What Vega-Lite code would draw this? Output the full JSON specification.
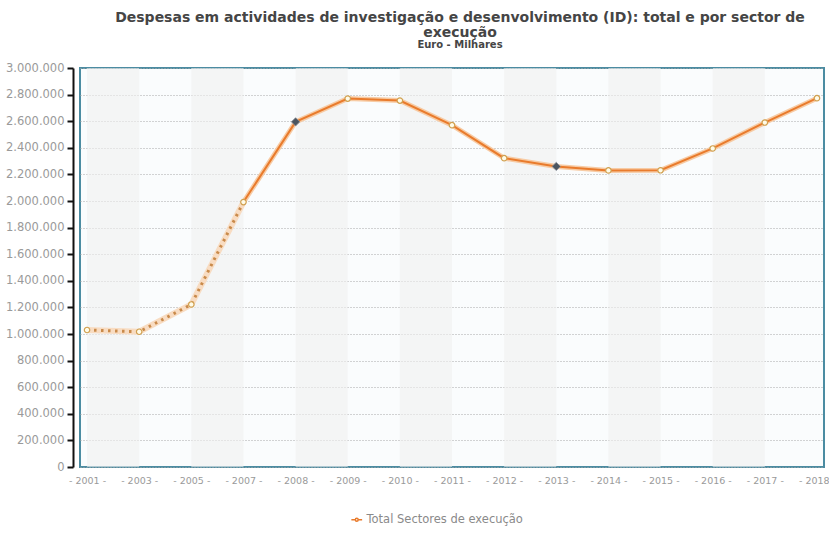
{
  "$schema": "https://vega.github.io/schema/vega-lite/v6.json",
  "width": 744,
  "height": 399,
  "autosize": {"type": "none"},
  "padding": {"left": 80, "top": 68, "right": 5, "bottom": 67},
  "background": "#ffffff",
  "title": {
    "text": ["Despesas em actividades de investigação e desenvolvimento (ID): total e por sector de", "execução"],
    "subtitle": "Euro - Milhares",
    "font": "DejaVu Sans",
    "fontSize": 14,
    "fontWeight": "bold",
    "color": "#454545",
    "lineHeight": 15,
    "subtitleFont": "DejaVu Sans",
    "subtitleFontSize": 10,
    "subtitleFontWeight": "bold",
    "subtitleColor": "#454545",
    "subtitlePadding": 0,
    "anchor": "middle",
    "dx": 8,
    "offset": 12
  },
  "datasets": {
    "despesa": [
      {"ano": 2001, "valor": 1030000, "serie": "Total Sectores de execução"},
      {"ano": 2003, "valor": 1017000, "serie": "Total Sectores de execução"},
      {"ano": 2005, "valor": 1222000, "serie": "Total Sectores de execução"},
      {"ano": 2007, "valor": 1992000, "serie": "Total Sectores de execução"},
      {"ano": 2008, "valor": 2595000, "serie": "Total Sectores de execução"},
      {"ano": 2009, "valor": 2770000, "serie": "Total Sectores de execução"},
      {"ano": 2010, "valor": 2755000, "serie": "Total Sectores de execução"},
      {"ano": 2011, "valor": 2570000, "serie": "Total Sectores de execução"},
      {"ano": 2012, "valor": 2322000, "serie": "Total Sectores de execução"},
      {"ano": 2013, "valor": 2260000, "serie": "Total Sectores de execução"},
      {"ano": 2014, "valor": 2230000, "serie": "Total Sectores de execução"},
      {"ano": 2015, "valor": 2231000, "serie": "Total Sectores de execução"},
      {"ano": 2016, "valor": 2395000, "serie": "Total Sectores de execução"},
      {"ano": 2017, "valor": 2590000, "serie": "Total Sectores de execução"},
      {"ano": 2018, "valor": 2773000, "serie": "Total Sectores de execução"}
    ],
    "faixas": [
      {"de": 2001, "ate": 2003},
      {"de": 2005, "ate": 2007},
      {"de": 2008, "ate": 2009},
      {"de": 2010, "ate": 2011},
      {"de": 2012, "ate": 2013},
      {"de": 2014, "ate": 2015},
      {"de": 2016, "ate": 2017}
    ]
  },
  "config": {
    "view": {"stroke": "#4b8ca2", "strokeWidth": 2, "fill": "#fafcfd"},
    "font": "DejaVu Sans",
    "axisY": {"labelFontSize": 11.5, "labelFont": "DejaVu Sans", "labelColor": "#9a9a9a"}
  },
  "encoding": {
    "x": {
      "field": "ano",
      "type": "ordinal",
      "scale": {
        "type": "point",
        "padding": 0.135,
        "domain": [2001, 2003, 2005, 2007, 2008, 2009, 2010, 2011, 2012, 2013, 2014, 2015, 2016, 2017, 2018]
      },
      "axis": {
        "title": null,
        "domain": false,
        "ticks": false,
        "grid": false,
        "labelAngle": 0,
        "labelOverlap": false,
        "labelExpr": "'- ' + datum.label + ' -'",
        "labelColor": "#9a9a9a",
        "labelFont": "DejaVu Sans",
        "labelFontSize": 9.5,
        "labelPadding": 8,
        "labelDx": -4
      }
    }
  },
  "layer": [
    {
      "data": {"name": "faixas"},
      "mark": {"type": "rect", "fill": "#f0f0f0", "opacity": 0.6},
      "encoding": {
        "x": {"field": "de", "type": "ordinal"},
        "x2": {"field": "ate"}
      }
    },
    {
      "data": {"name": "despesa"},
      "encoding": {
        "y": {
          "field": "valor",
          "type": "quantitative",
          "scale": {"domain": [0, 3000000], "nice": false, "zero": true},
          "axis": {
            "title": null,
            "values": [0, 200000, 400000, 600000, 800000, 1000000, 1200000, 1400000, 1600000, 1800000, 2000000, 2200000, 2400000, 2600000, 2800000, 3000000],
            "labelExpr": "replace(format(datum.value, ','), regexp(',', 'g'), '.')",
            "labelFontSize": 11.5,
            "labelPadding": 3,
            "domain": true,
            "domainColor": "#111111",
            "domainWidth": 2,
            "ticks": true,
            "tickColor": "#111111",
            "tickWidth": 2,
            "tickSize": 6,
            "offset": 7,
            "grid": true,
            "gridColor": "#a8a8a8",
            "gridDash": [1, 2],
            "gridWidth": 1
          }
        }
      },
      "layer": [
        {
          "transform": [{"filter": "datum.ano <= 2007"}],
          "mark": {"type": "line", "stroke": "#f8dcc2", "strokeWidth": 6, "strokeCap": "round"}
        },
        {
          "transform": [{"filter": "datum.ano <= 2007"}],
          "mark": {"type": "line", "stroke": "#c98a4a", "strokeWidth": 3, "strokeDash": [2.5, 4.5]}
        },
        {
          "transform": [{"filter": "datum.ano >= 2007"}],
          "mark": {"type": "line", "stroke": "#f7cba4", "strokeWidth": 5, "strokeCap": "round"}
        },
        {
          "transform": [{"filter": "datum.ano >= 2007"}],
          "mark": {"type": "line", "strokeWidth": 2},
          "encoding": {
            "color": {
              "field": "serie",
              "type": "nominal",
              "scale": {"range": ["#e97b2c"]},
              "legend": {
                "title": null,
                "orient": "none",
                "legendX": 271,
                "legendY": 446,
                "symbolType": "M-1.7,0H-0.45M0.45,0H1.7M0.45,0A0.45,0.45 0 1 1 -0.45,0A0.45,0.45 0 1 1 0.45,0",
                "symbolFillColor": "#ffffff",
                "symbolStrokeColor": "#e9953c",
                "symbolStrokeWidth": 1.5,
                "symbolSize": 40,
                "labelFont": "DejaVu Sans",
                "labelFontSize": 11.5,
                "labelColor": "#8a8a8a"
              }
            }
          }
        },
        {
          "transform": [{"filter": "datum.ano != 2008 && datum.ano != 2013"}],
          "mark": {"type": "point", "shape": "circle", "filled": true, "fill": "#fffbe8", "stroke": "#d0a050", "strokeWidth": 1.2, "size": 30, "opacity": 1}
        },
        {
          "transform": [{"filter": "datum.ano == 2008 || datum.ano == 2013"}],
          "mark": {"type": "point", "shape": "diamond", "filled": true, "fill": "#4b5560", "stroke": "#8a9098", "strokeWidth": 0.8, "size": 70, "opacity": 1}
        }
      ]
    }
  ]
}
